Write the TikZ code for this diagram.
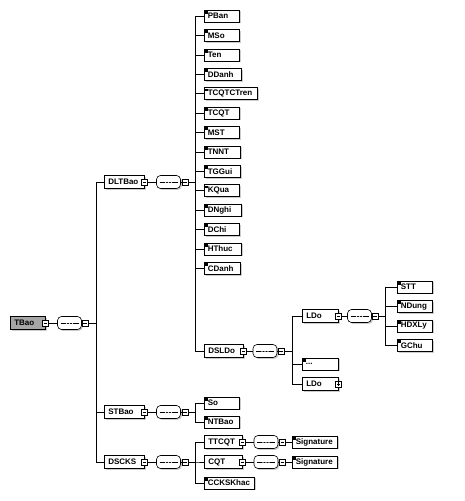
\documentclass[tikz,border=0pt]{standalone}
\usepackage{fontspec}
\setmainfont{Liberation Sans}
\usetikzlibrary{shadows}
\begin{document}
\begin{tikzpicture}[x=1pt,y=-1pt,
  font=\fontsize{8}{9}\selectfont\bfseries,
  link/.style={line width=0.6pt},
  shad/.style={drop shadow={shadow xshift=1.4pt,shadow yshift=-1.4pt,fill=black!20,opacity=1}},
  leaf/.style={draw,line width=0.6pt,fill=white,shad,anchor=west,minimum height=12pt,
    text width=#1,align=left,inner xsep=3.5pt,inner ysep=0pt,
    path picture={\foreach \k in {0,1,2}{\draw[line width=0.35pt]
      ([xshift=1.1pt,yshift=-1.1pt-\k*0.9pt]path picture bounding box.north west) -- ++(2.6pt,0pt);}}},
  leaf/.default=28pt,
  comp/.style={draw,line width=0.6pt,fill=white,shad,minimum height=13pt,
    text width=#1,align=left,inner xsep=4pt,inner ysep=0pt},
  comp/.default=32pt,
  seq/.style={draw,line width=0.6pt,fill=white,shad,rounded corners=4pt,minimum width=24pt,
    minimum height=13pt,inner sep=0pt,
    path picture={\draw[line width=0.5pt] ([xshift=3pt]path picture bounding box.west) --
      ([xshift=-3pt]path picture bounding box.east);
      \foreach \d in {-3,0,3}{\fill ([xshift=\d pt]path picture bounding box.center) circle (0.95pt);}}},
  sq/.style={draw,line width=0.5pt,fill=white,minimum size=6pt,inner sep=0pt,
    path picture={\draw[line width=0.45pt] ([xshift=1.2pt]path picture bounding box.west) --
      ([xshift=-1.2pt]path picture bounding box.east);}},
  sqplus/.style={sq,path picture={\draw[line width=0.45pt]
      ([xshift=1.2pt]path picture bounding box.west) -- ([xshift=-1.2pt]path picture bounding box.east)
      ([yshift=1.2pt]path picture bounding box.south) -- ([yshift=-1.2pt]path picture bounding box.north);}}
]
\useasboundingbox (0,0) rectangle (465,501);

% root
\node[comp=27pt,fill=black!35,anchor=west] (TBao) at (10,323) {TBao};
\node[sq] (TBaoM) at (TBao.east) {};
\node[seq] (TBaoS) at (69.5,323) {};
\node[sq] (TBaoQ) at (85,323) {};

% level 1
\foreach \n/\y in {DLTBao/182,STBao/412,DSCKS/462}{
  \node[comp,anchor=west] (\n) at (104,\y) {\n};
  \node[sq] (\n M) at (\n.east) {};
  \node[seq] (\n S) at (168.5,\y) {};
  \node[sq] (\n Q) at (185,\y) {};
}

% DLTBao children
\foreach \n/\w [count=\i from 0] in {PBan/28,MSo/28,Ten/28,DDanh/30,TCQTCTren/46,TCQT/28,MST/28,TNNT/29,TGGui/29,KQua/28,DNghi/30,DChi/28,HThuc/30,CDanh/29}{
  \node[leaf=\w pt] (\n) at (204,{16+19.4*\i}) {\n};
}

% DSLDo
\node[comp=31pt,anchor=west] (DSLDo) at (204,351) {DSLDo};
\node[sq] (DSLDoM) at (DSLDo.east) {};
\node[seq] (DSLDoS) at (265,351) {};
\node[sq] (DSLDoQ) at (281,351) {};

\node[comp=28pt,anchor=west] (LDo) at (302,316) {LDo};
\node[sq] (LDoM) at (LDo.east) {};
\node[seq] (LDoS) at (359.5,316) {};
\node[sq] (LDoQ) at (375,316) {};
\node[leaf=29pt] (Any) at (302,364) {...};
\node[comp=28pt,anchor=west] (LDoB) at (302,384) {LDo};
\node[sqplus] (LDoBP) at (LDoB.east) {};

\foreach \n/\y in {STT/287,NDung/306.5,HDXLy/326,GChu/345.5}{
  \node[leaf] (\n) at (397,\y) {\n};
}

% STBao children
\node[leaf] (So) at (204,403) {So};
\node[leaf] (NTBao) at (204,422) {NTBao};

% DSCKS children
\foreach \n/\y in {TTCQT/442,CQT/462}{
  \node[comp=30pt,anchor=west] (\n) at (204,\y) {\n};
  \node[sq] (\n M) at (\n.east) {};
  \node[seq] (\n S) at (266,\y) {};
  \node[sq] (\n Q) at (282.5,\y) {};
  \node[leaf=38pt] (\n Sig) at (292,\y) {Signature};
}
\node[leaf=43pt] (CCKSKhac) at (204,483) {CCKSKhac};

% connectors
\draw[link] (TBaoM) -- (TBaoS);
\draw[link] (TBaoS) -- (TBaoQ);
\foreach \n in {DLTBao,STBao,DSCKS}{
  \draw[link] (TBaoQ.east) -- ++(8,0) |- (\n.west);
  \draw[link] (\n M) -- (\n S);
  \draw[link] (\n S) -- (\n Q);
}
\foreach \n in {PBan,MSo,Ten,DDanh,TCQTCTren,TCQT,MST,TNNT,TGGui,KQua,DNghi,DChi,HThuc,CDanh,DSLDo}{
  \draw[link] (DLTBaoQ.east) -- ++(7,0) |- (\n.west);
}
\draw[link] (DSLDoM) -- (DSLDoS);
\draw[link] (DSLDoS) -- (DSLDoQ);
\foreach \n in {LDo,Any,LDoB}{
  \draw[link] (DSLDoQ.east) -- ++(8,0) |- (\n.west);
}
\draw[link] (LDoM) -- (LDoS);
\draw[link] (LDoS) -- (LDoQ);
\foreach \n in {STT,NDung,HDXLy,GChu}{
  \draw[link] (LDoQ.east) -- ++(7,0) |- (\n.west);
}
\foreach \n in {So,NTBao}{
  \draw[link] (STBaoQ.east) -- ++(7,0) |- (\n.west);
}
\foreach \n in {TTCQT,CQT,CCKSKhac}{
  \draw[link] (DSCKSQ.east) -- ++(7,0) |- (\n.west);
}
\foreach \n in {TTCQT,CQT}{
  \draw[link] (\n M) -- (\n S);
  \draw[link] (\n S) -- (\n Q);
  \draw[link] (\n Q) -- (\n Sig);
}
\end{tikzpicture}
\end{document}
